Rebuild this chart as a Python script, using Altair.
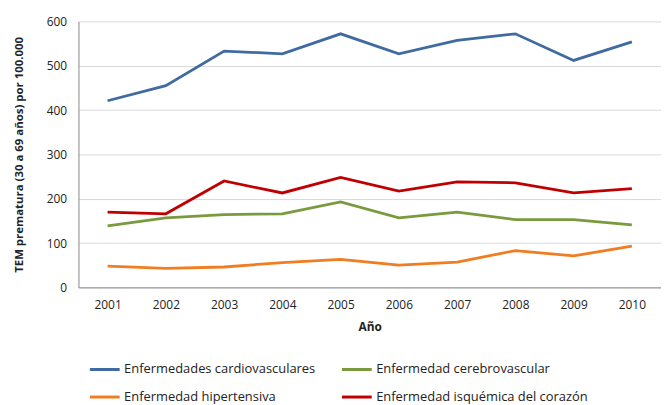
import altair as alt
import pandas as pd

years = ["2001", "2002", "2003", "2004", "2005", "2006", "2007", "2008", "2009", "2010"]
series_names = [
    "Enfermedades cardiovasculares",
    "Enfermedad cerebrovascular",
    "Enfermedad hipertensiva",
    "Enfermedad isquémica del corazón",
]
cardio = [421, 455, 533, 527, 572, 527, 557, 572, 512, 554]
cerebro = [139, 157, 164, 166, 193, 157, 170, 153, 153, 141]
hiper = [48, 43, 46, 56, 63, 50, 57, 83, 71, 93]
isquem = [170, 166, 240, 213, 248, 217, 238, 236, 213, 223]
colors = ["#3F6BA0", "#7A9A3E", "#F07D22", "#C00000"]

rows = []
for name, vals in zip(series_names, [cardio, cerebro, hiper, isquem]):
    for y, v in zip(years, vals):
        rows.append({"Año": y, "valor": v, "serie": name})
df = pd.DataFrame(rows)

font = "Open Sans"

chart = alt.Chart(df).mark_line(strokeWidth=2.8).encode(
    x=alt.X("Año:O", sort=years,
            scale=alt.Scale(paddingInner=0, paddingOuter=0),
            axis=alt.Axis(labelAngle=0, ticks=False, domainColor="#888888",
                          labelFontSize=12, labelColor="#222222", labelFont=font,
                          labelPadding=12, title="Año", titleFontSize=12,
                          titleFont=font, titleFontWeight="bold", titleColor="#222222",
                          titlePadding=11, grid=False)),
    y=alt.Y("valor:Q", scale=alt.Scale(domain=[0, 600]),
            axis=alt.Axis(values=[0, 100, 200, 300, 400, 500, 600], ticks=False,
                          domainColor="#888888", gridColor="#D9D9D9",
                          labelFontSize=12, labelColor="#222222", labelFont=font,
                          labelPadding=12,
                          title="TEM prematura (30 a 69 años) por 100.000",
                          titleFontSize=11.5, titleFont=font, titleFontWeight="bold",
                          titleColor="#222222", titlePadding=22)),
    color=alt.Color("serie:N", sort=series_names,
                    scale=alt.Scale(domain=series_names, range=colors),
                    legend=alt.Legend(title=None, orient="none", legendX=10, legendY=334,
                                      direction="horizontal",
                                      columns=2, symbolType="stroke", symbolSize=900,
                                      symbolStrokeWidth=3, labelFontSize=13,
                                      labelFont=font, labelColor="#222222",
                                      columnPadding=20, rowPadding=4, labelLimit=300,
                                      gridAlign="each", labelOffset=3)),
).properties(
    width=587, height=268,
    padding={"left": 71, "top": 12, "right": 0, "bottom": 117},
    autosize=alt.AutoSizeParams(type="none"),
).configure_view(stroke=None)

chart.save("out.html", embed_options={"renderer": "svg", "actions": False})
